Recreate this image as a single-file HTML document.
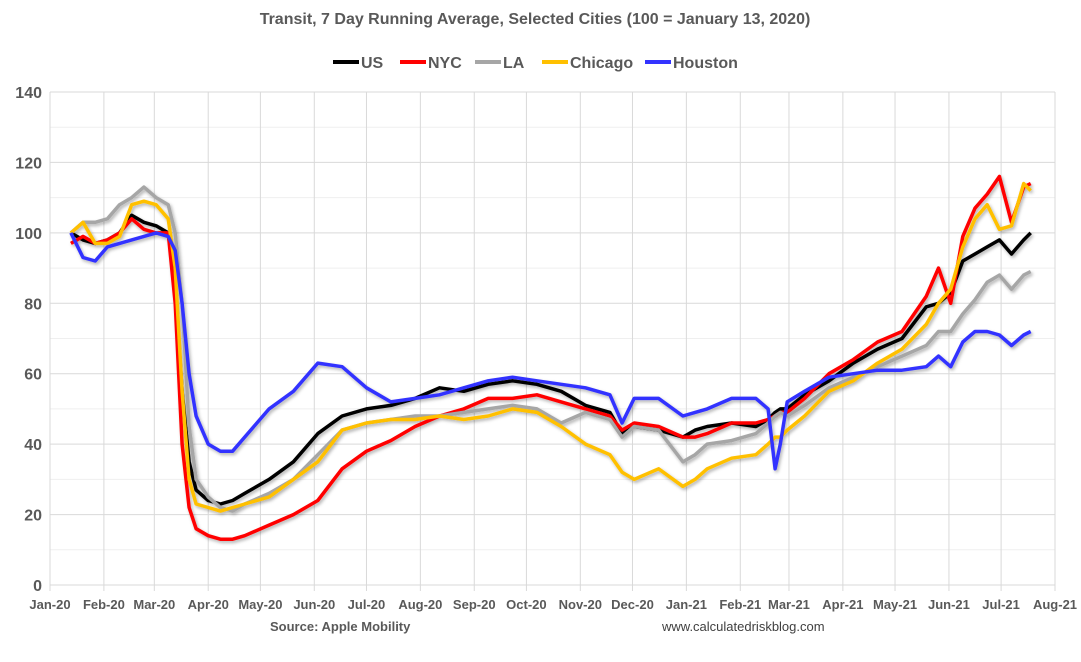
<!DOCTYPE html>
<html><head><meta charset="utf-8"><style>
body{margin:0;background:#fff;font-family:"Liberation Sans",Arial,sans-serif}
svg{display:block}
</style></head><body>
<svg id="c" width="1081" height="662">
<defs><filter id="sh" x="-5%" y="-5%" width="110%" height="110%"><feDropShadow dx="1.5" dy="2" stdDeviation="1.5" flood-color="#000" flood-opacity="0.3"/></filter></defs>
<text x="535" y="24" text-anchor="middle" font-size="16" font-weight="bold" fill="#595959">Transit, 7 Day Running Average, Selected Cities (100 = January 13, 2020)</text>
<g id="grid"></g><g id="lines" filter="url(#sh)"></g><g id="legend"></g>
<text x="270" y="631" font-size="13" font-weight="bold" fill="#595959">Source: Apple Mobility</text>
<text x="662" y="631" font-size="13" fill="#404040">www.calculatedriskblog.com</text>
</svg>
<script>
const monthLabels=["Jan-20","Feb-20","Mar-20","Apr-20","May-20","Jun-20","Jul-20","Aug-20","Sep-20","Oct-20","Nov-20","Dec-20","Jan-21","Feb-21","Mar-21","Apr-21","May-21","Jun-21","Jul-21","Aug-21"];
const monthDays=[0,31,60,91,121,152,182,213,244,274,305,335,366,397,425,456,486,517,547,578];
const yTicks=[0,20,40,60,80,100,120,140];
const days=[12,19,26,33,40,47,54,61,68,72,76,80,84,91,98,105,112,126,140,154,168,182,196,210,224,238,252,266,280,294,308,322,329,336,350,364,371,378,392,406,413,417,420,424,434,448,462,476,490,504,511,518,525,532,539,546,553,560,564];
const us=[100,98,97,98,100,105,103,102,100,85,55,35,27,24,23,24,26,30,35,43,48,50,51,53,56,55,57,58,57,55,51,49,43,45,44,42,44,45,46,45,47,49,50,50,54,58,63,67,70,79,80,83,92,94,96,98,94,98,100];
const nyc=[97,99,97,98,100,104,101,100,100,80,40,22,16,14,13,13,14,17,20,24,33,38,41,45,48,50,53,53,54,52,50,48,44,46,45,42,42,43,46,46,47,48,49,49,53,60,64,69,72,82,90,80,99,107,111,116,103,113,114];
const la=[100,103,103,104,108,110,113,110,108,100,80,45,30,25,22,21,23,26,30,37,44,46,47,48,48,49,50,51,50,46,49,47,42,45,44,35,37,40,41,43,46,48,49,48,51,56,59,62,65,68,72,72,77,81,86,88,84,88,89];
const chicago=[100,103,97,97,99,108,109,108,104,90,55,30,23,22,21,22,23,25,30,35,44,46,47,47,48,47,48,50,49,45,40,37,32,30,33,28,30,33,36,37,40,42,42,44,48,55,58,63,67,74,80,84,96,104,108,101,102,114,112];
const houston=[100,93,92,96,97,98,99,100,99,95,80,60,48,40,38,38,42,50,55,63,62,56,52,53,54,56,58,59,58,57,56,54,46,53,53,48,49,50,53,53,50,33,40,52,55,59,60,61,61,62,65,62,69,72,72,71,68,71,72];
const NS="http://www.w3.org/2000/svg";
const X0=50,X1=1055,Y0=585,Y1=92,DMAX=578;
const xs=d=>X0+(X1-X0)*d/DMAX, ys=v=>Y0-(Y0-Y1)*v/140;
function mk(t,a,p){const e=document.createElementNS(NS,t);for(const k in a)e.setAttribute(k,a[k]);p.appendChild(e);return e;}
const grid=document.getElementById('grid');
for(let v=0;v<=140;v+=10){
 const l=mk('line',{x1:X0,x2:X1,y1:ys(v),y2:ys(v),stroke:v%20?'#efefef':'#d9d9d9','stroke-width':1},grid);
 
 
}
yTicks.forEach(v=>{const t=mk('text',{x:42,y:ys(v)+6,'text-anchor':'end','font-size':16,'font-weight':'bold',fill:'#595959'},grid);t.textContent=v;
 
 });
monthDays.forEach((d,i)=>{
 const l=mk('line',{x1:xs(d),x2:xs(d),y1:Y1,y2:Y0+6,stroke:'#d9d9d9','stroke-width':1},grid);
 
 
 const t=mk('text',{x:xs(d),y:609,'text-anchor':'middle','font-size':13,'font-weight':'bold',fill:'#595959'},grid);t.textContent=monthLabels[i];
 
 
});
const series=[["US",us,"#000000"],["NYC",nyc,"#ff0000"],["LA",la,"#a6a6a6"],["Chicago",chicago,"#ffc000"],["Houston",houston,"#3333ff"]];
const lg=document.getElementById('lines');
series.forEach(([n,arr,c])=>{
 const p=mk('polyline',{points:arr.map((v,i)=>xs(days[i]).toFixed(1)+','+ys(v).toFixed(1)).join(' '),fill:'none',stroke:c,'stroke-width':3.5,'stroke-linejoin':'round'},lg);
 
 
});
const leg=document.getElementById('legend');
const legX=[333,400,475,542,645];
series.forEach(([n,arr,c],i)=>{
 const g=mk('g',{},leg);
 
 
 mk('line',{x1:legX[i],x2:legX[i]+26,y1:62,y2:62,stroke:c,'stroke-width':4},g);
 const t=mk('text',{x:legX[i]+28,y:68,'font-size':16,'font-weight':'bold',fill:'#595959'},g);t.textContent=n;
});
</script>
</body></html>
